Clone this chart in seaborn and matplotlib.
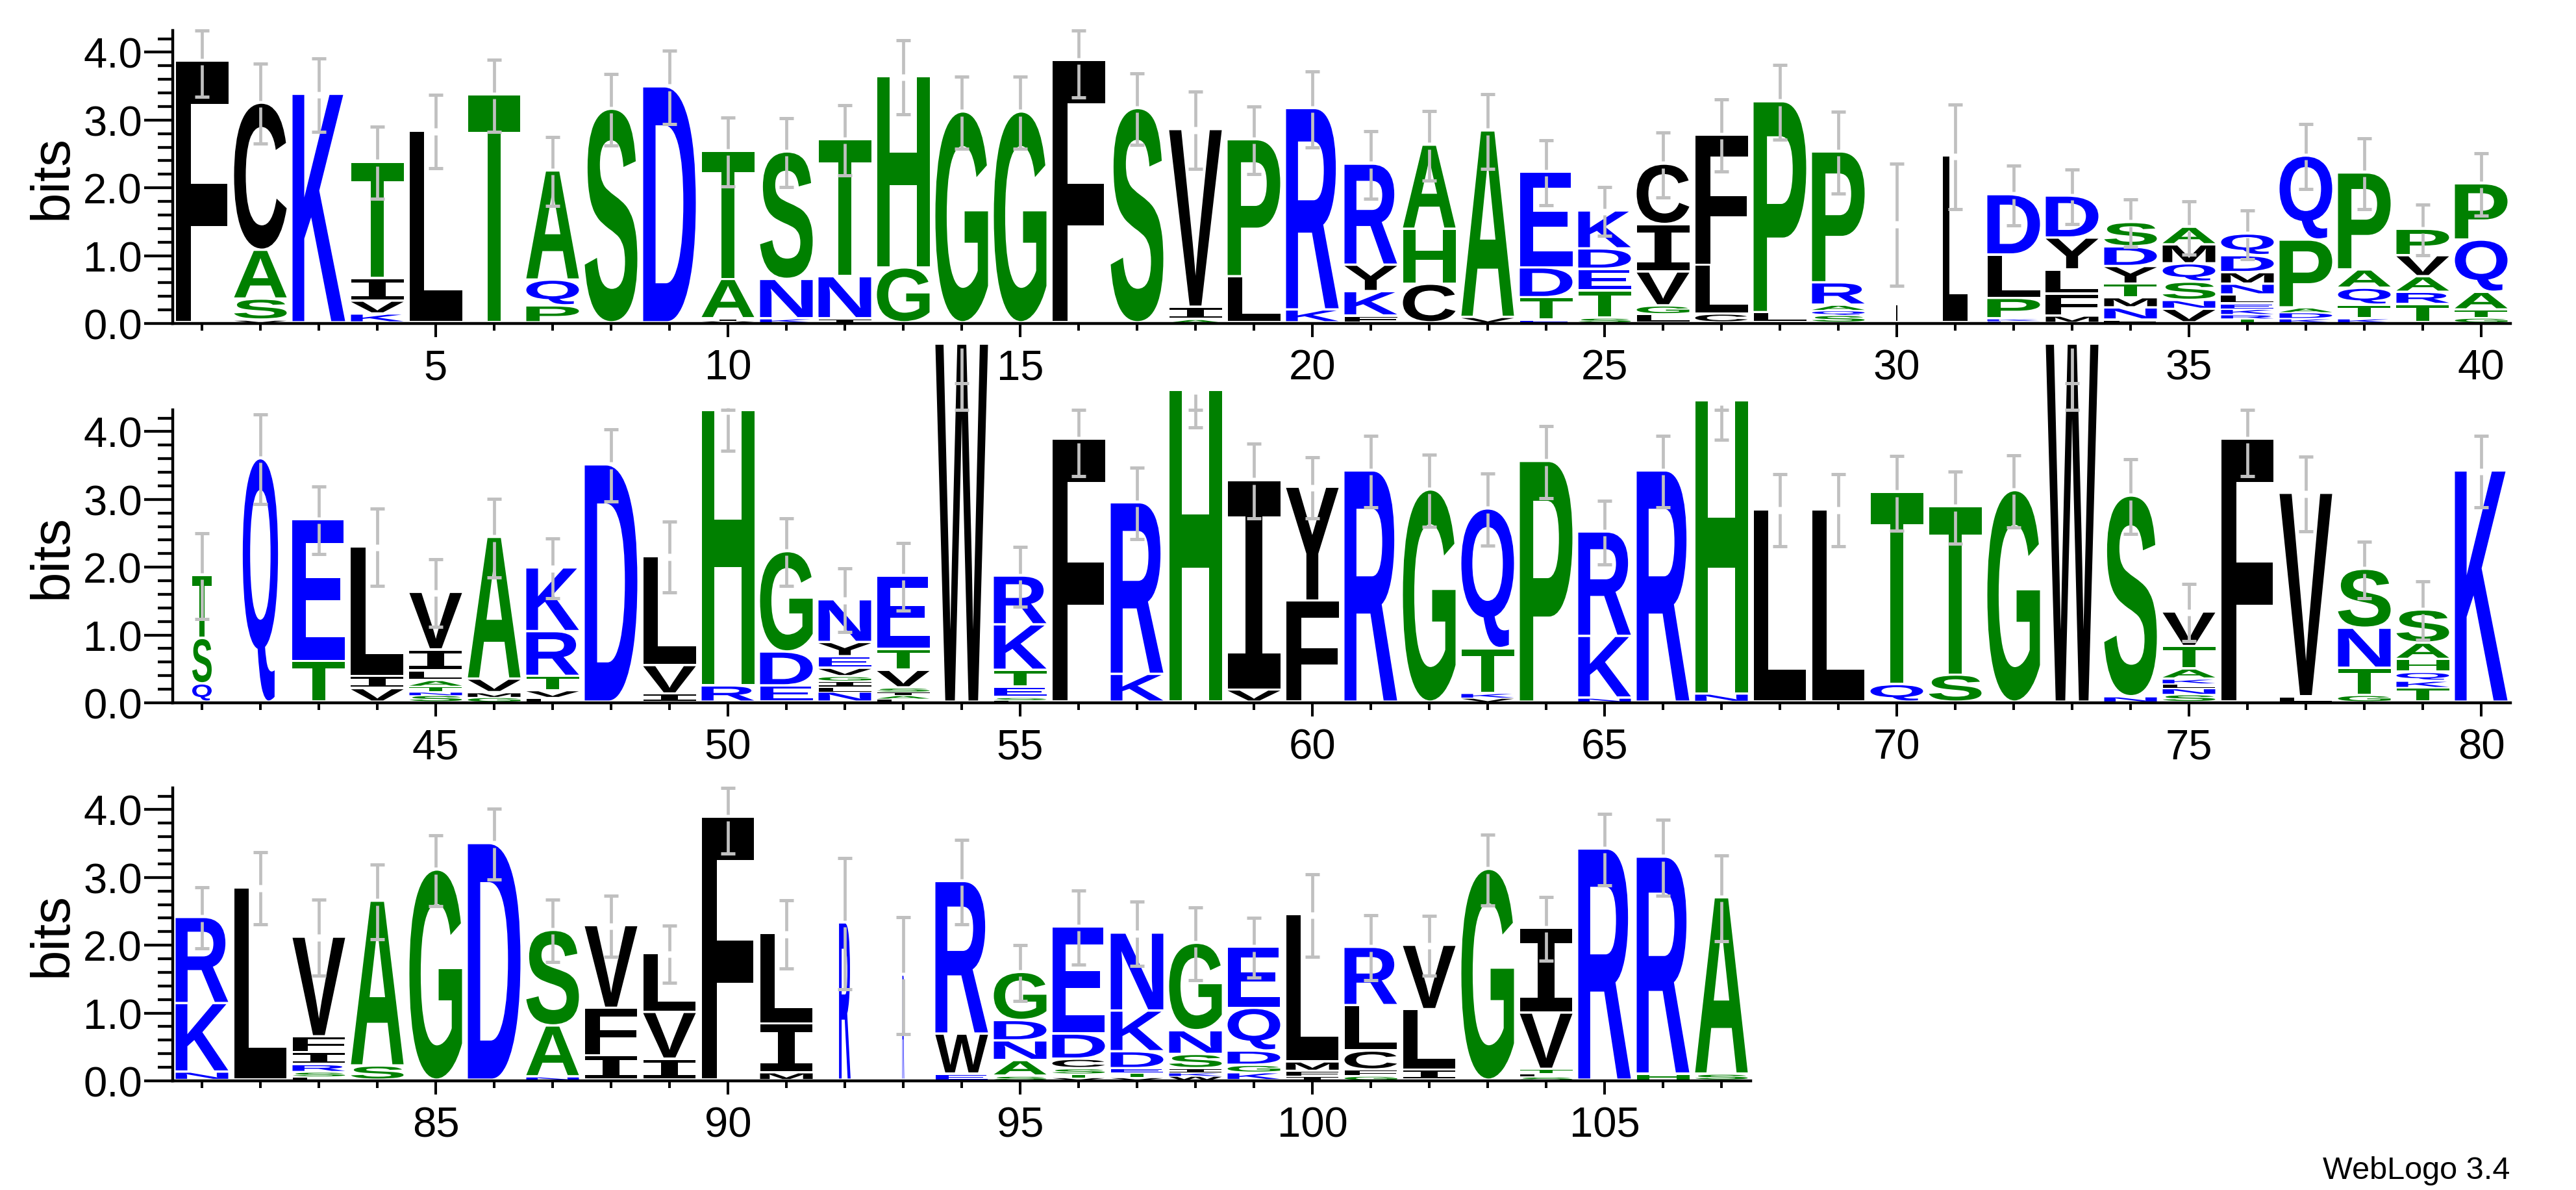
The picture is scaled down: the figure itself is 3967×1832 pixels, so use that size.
import numpy as np
import pandas as pd
import seaborn as sns
import matplotlib
matplotlib.use("Agg")
import matplotlib.pyplot as plt
from matplotlib.textpath import TextPath
from matplotlib.font_manager import FontProperties
from matplotlib.patches import PathPatch
from matplotlib.transforms import Affine2D

# -----------------------------------------------
# Data (letters bottom -> top, cumulative tops in bits)
# -----------------------------------------------
stack_letters = [
    "F", "VSAC", "K", "KVIT", "L", "T", "PQA", "S", "D", "VIAT",
    "KNS", "INT", "GH", "G", "G", "F", "S", "AIV", "LP", "KR",
    "FKYR", "CHA", "VA", "ETDE", "STEDK", "LGVIC", "CLF", "LP", "SQARP", "L",
    "L", "EKPLD", "MFLYD", "FNMTYDS", "VNSQMA", "TRKELNMDQ", "KDAPQ", "KTQAP", "TRAVP", "GTAQP",
    "QST", "Q", "TE", "VIL", "SNTALIV", "GMVA", "LVTRK", "D", "IVL", "RH",
    "EDG", "NLIGVEYN", "LAISVTE", "W", "LSETKR", "F", "KR", "H", "VI", "FY",
    "R", "G", "VKTQ", "P", "NKR", "R", "NH", "L", "L", "QT",
    "ST", "G", "W", "NS", "SNLKATV", "F", "LV", "GTNS", "TKQHAS", "K",
    "NKR", "L", "LSRIFV", "SA", "G", "D", "NAS", "IFV", "IVL", "F",
    "MIL", "R", "R", "EWR", "SANDG", "VTSCDE", "VTEDKN", "WKISNG", "KGDQE", "IFML",
    "GFCLR", "ILV", "G", "SLTVI", "R", "HR", "SA",
]

stack_tops = [
    [3.86], [0.04, 0.35, 1.07, 3.24], [3.37], [0.13, 0.32, 0.65, 2.37], [2.83],
    [3.36], [0.25, 0.63, 2.24], [3.15], [3.48], [0.03, 0.06, 0.64, 2.53],
    [0.06, 0.64, 2.52], [0.06, 0.68, 2.70], [0.81, 3.63], [3.11], [3.11],
    [3.87], [3.16], [0.05, 0.23, 2.85], [0.68, 2.70], [0.19, 3.16],
    [0.10, 0.46, 0.85, 2.34], [0.57, 1.38, 2.62], [0.08, 2.83], [0.04, 0.37, 0.81, 2.22],
    [0.07, 0.47, 0.79, 1.09, 1.65], [0.12, 0.25, 0.75, 1.45, 2.34], [0.13, 0.85, 2.77],
    [0.15, 3.26], [0.11, 0.18, 0.26, 0.59, 2.52], [1.46],
    [2.46], [0.03, 0.06, 0.36, 1.00, 1.89], [0.10, 0.42, 0.78, 1.25, 1.87],
    [0.04, 0.22, 0.37, 0.57, 0.83, 1.12, 1.48], [0.20, 0.33, 0.60, 0.87, 1.15, 1.41],
    [0.06, 0.12, 0.20, 0.28, 0.41, 0.57, 0.74, 0.99, 1.31], [0.06, 0.15, 0.22, 1.22, 2.46],
    [0.06, 0.26, 0.51, 0.78, 2.21], [0.27, 0.45, 0.68, 0.99, 1.38], [0.07, 0.19, 0.45, 1.22, 2.05],
    [0.27, 0.94, 1.87], [3.59], [0.60, 2.69], [0.20, 0.38, 2.29],
    [0.10, 0.15, 0.23, 0.32, 0.46, 0.77, 1.62], [0.07, 0.14, 0.34, 2.43],
    [0.06, 0.17, 0.38, 1.04, 1.98], [3.50], [0.12, 0.54, 2.15], [0.24, 4.30],
    [0.24, 0.74, 2.22], [0.15, 0.22, 0.31, 0.38, 0.50, 0.67, 0.88, 1.51],
    [0.05, 0.10, 0.15, 0.21, 0.47, 0.78, 1.86], [5.28], [0.03, 0.07, 0.22, 0.47, 1.14, 1.86],
    [3.88], [0.41, 2.94], [4.60], [0.18, 3.27], [1.49, 3.17],
    [3.41], [3.13], [0.06, 0.13, 0.79, 2.85], [3.55], [0.06, 0.97, 2.51],
    [3.41], [0.12, 4.44], [2.84], [2.84], [0.26, 3.09],
    [0.40, 2.88], [3.12], [5.28], [0.08, 3.04], [0.11, 0.20, 0.27, 0.34, 0.49, 0.82, 1.33],
    [3.88], [0.08, 3.08], [0.10, 0.50, 1.09, 1.96], [0.21, 0.31, 0.44, 0.63, 0.87, 1.36], [3.41],
    [0.12, 1.13, 2.40], [2.84], [0.05, 0.12, 0.23, 0.41, 0.64, 2.11], [0.21, 2.64], [3.10],
    [3.49], [0.05, 0.80, 2.21], [0.36, 1.06, 2.28], [0.31, 1.00, 1.87], [3.88],
    [0.11, 0.83, 2.16], [2.32], [1.55], [0.09, 0.68, 2.93], [0.06, 0.29, 0.58, 0.88, 1.59],
    [0.04, 0.09, 0.17, 0.31, 0.68, 2.26], [0.04, 0.11, 0.17, 0.42, 1.02, 2.17],
    [0.06, 0.11, 0.17, 0.38, 0.73, 2.02], [0.11, 0.22, 0.43, 1.06, 1.96], [0.06, 0.13, 0.27, 2.44],
    [0.06, 0.15, 0.43, 1.10, 1.96], [0.15, 1.04, 1.99], [3.11], [0.05, 0.10, 0.16, 0.99, 2.24],
    [3.41], [0.09, 3.29], [0.09, 2.69],
]

error_half = [
    0.52, 0.59, 0.54, 0.53, 0.54, 0.53, 0.51, 0.53, 0.54, 0.51,
    0.51, 0.52, 0.55, 0.53, 0.53, 0.54, 0.53, 0.57, 0.50, 0.56,
    0.50, 0.51, 0.55, 0.48, 0.36, 0.48, 0.53, 0.55, 0.60, 0.90,
    0.77, 0.44, 0.40, 0.35, 0.39, 0.36, 0.48, 0.52, 0.37, 0.46,
    0.63, 0.66, 0.50, 0.57, 0.50, 0.58, 0.44, 0.53, 0.52, 0.58,
    0.50, 0.47, 0.50, 0.57, 0.44, 0.54, 0.53, 0.54, 0.55, 0.45,
    0.53, 0.53, 0.53, 0.53, 0.47, 0.53, 0.56, 0.53, 0.53, 0.55,
    0.53, 0.53, 0.57, 0.55, 0.42, 0.54, 0.55, 0.42, 0.43, 0.53,
    0.45, 0.53, 0.56, 0.55, 0.52, 0.52, 0.46, 0.45, 0.42, 0.53,
    0.50, 0.97, 0.86, 0.62, 0.41, 0.55, 0.47, 0.54, 0.44, 0.61,
    0.48, 0.44, 0.52, 0.47, 0.53, 0.56, 0.63,
]

# columns with many gaps are drawn narrower
narrow_positions = [30, 31, 41, 42, 92, 93]
narrow_widths = [0.035, 0.48, 0.37, 0.67, 0.22, 0.035]

row_starts = [1, 41, 81]
row_ends = [40, 80, 107]
y_ticks = [0, 1, 2, 3, 4]
y_tick_labels = ["0.0", "1.0", "2.0", "3.0", "4.0"]

# hydrophobicity colour scheme
blue_letters = "RKDENQ"
green_letters = "SGHTAP"

# -----------------------------------------------
# Build long table of letter boxes
# -----------------------------------------------
records = []
for pos, (letters, tops) in enumerate(zip(stack_letters, stack_tops), start=1):
    bottom = 0.0
    for ch, top in zip(letters, tops):
        records.append({"pos": pos, "letter": ch, "bottom": bottom, "top": top})
        bottom = top
df = pd.DataFrame(records)

width_scale = dict(zip(narrow_positions, narrow_widths))
stack_height = [t[-1] for t in stack_tops]

# -----------------------------------------------
# Style
# -----------------------------------------------
sns.set_theme(style="ticks", rc={
    "axes.edgecolor": "black", "xtick.color": "black", "ytick.color": "black",
    "text.color": "black", "axes.labelcolor": "black",
})
plt.rcParams["font.family"] = ["Liberation Sans", "DejaVu Sans"]

FONT = FontProperties(family="Liberation Sans", weight="bold")
FONT_I = FontProperties(family="Liberation Mono", weight="bold")
BLUE, GREEN, BLACK, GREY = "#0000FF", "#008000", "#000000", "#C0C0C0"
YMAX = np.log2(20)

W_PX, H_PX = 3967, 1833
UNIT_PX = 90
LEFT_PX = 266
BITS_PX = 104.4
row_base_px = [499, 1083, 1665]


def letter_color(ch):
    if ch in blue_letters:
        return BLUE
    if ch in green_letters:
        return GREEN
    return BLACK


def draw_letter(ax, ch, x, y0, y1, w):
    h = y1 - y0
    gap = 0.035 if h > 0.14 else h * 0.25
    tp = TextPath((0, 0), ch, size=1, prop=FONT_I if ch == "I" else FONT)
    bb = tp.get_extents()
    tr = (Affine2D().translate(-bb.x0, -bb.y0)
          .scale(w / bb.width, (h - gap) / bb.height)
          .translate(x - w / 2, y0 + gap))
    patch = PathPatch(tr.transform_path(tp), fc=letter_color(ch), ec="none",
                      lw=0, clip_on=False, zorder=2)
    ax.add_patch(patch)


fig = plt.figure(figsize=(W_PX / 100, H_PX / 100), dpi=100)
ax_h = YMAX * BITS_PX / H_PX

for r in range(3):
    start, end = row_starts[r], row_ends[r]
    n = end - start + 1
    ax = fig.add_axes([LEFT_PX / W_PX, 1 - row_base_px[r] / H_PX, n * UNIT_PX / W_PX, ax_h])
    ax.set_xlim(start - 0.5, end + 0.5)
    ax.set_ylim(0, YMAX)

    sub = df[(df["pos"] >= start) & (df["pos"] <= end)]
    for _, row in sub.iterrows():
        w = 0.9 * width_scale.get(row["pos"], 1.0)
        draw_letter(ax, row["letter"], row["pos"], row["bottom"], row["top"], w)

    # error bars (clipped at the log2(20) ceiling, like WebLogo)
    for pos in range(start, end + 1):
        top = stack_height[pos - 1]
        e = error_half[pos - 1]
        lo = top - e
        hi = min(top + e, YMAX)
        if top < YMAX:
            ax.vlines([pos, pos], [lo, top + 0.05], [top - 0.05, hi], color=GREY, lw=3.4,
                      zorder=3, clip_on=False)
        else:
            ax.vlines([pos, pos], [min(lo, hi), YMAX], [max(lo, hi), top - 0.05], color=GREY,
                      lw=3.4, zorder=3, clip_on=False)
        ax.hlines([lo, hi], pos - 0.117, pos + 0.117, color=GREY, lw=3.6,
                  zorder=3, clip_on=False)

    ax.set_xticks([p for p in range(start, end + 1) if p % 5 == 0])
    ax.set_xticks(range(start, end + 1), minor=True)
    ax.set_yticks(y_ticks)
    ax.set_yticklabels(y_tick_labels)
    ax.set_yticks(np.arange(0, 4.3, 0.2), minor=True)

    ax.tick_params(axis="x", which="major", length=15, width=2.9, pad=13, labelsize=47)
    ax.tick_params(axis="x", which="minor", length=8, width=2.9)
    ax.tick_params(axis="y", which="major", length=32, width=3.1, pad=2, labelsize=47)
    ax.tick_params(axis="y", which="minor", length=16.5, width=3.1)
    for s in ["left", "bottom"]:
        ax.spines[s].set_linewidth(3.2)
    sns.despine(ax=ax)
    ax.set_facecolor("none")

    y_mid = 1 - row_base_px[r] / H_PX + ax_h / 2
    fig.text(103 / W_PX, y_mid, "bits", rotation=90, rotation_mode="anchor",
             ha="center", va="baseline", fontsize=60)

fig.text(3865 / W_PX, 1 - 1815 / H_PX, "WebLogo 3.4", ha="right", va="baseline", fontsize=35)

plt.savefig("out.png", dpi=100, facecolor="white")
plt.close()
